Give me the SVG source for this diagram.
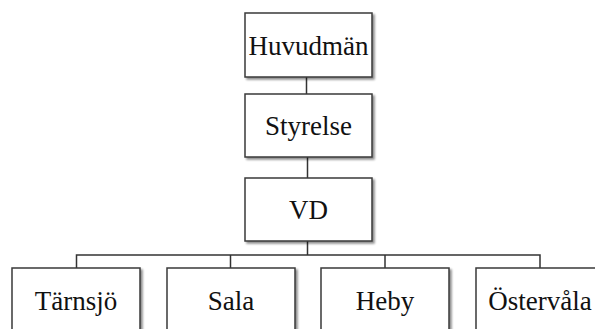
<svg xmlns="http://www.w3.org/2000/svg" width="595" height="329" viewBox="0 0 595 329">
<defs>
<filter id="sh" x="-10%" y="-10%" width="125%" height="125%">
<feGaussianBlur in="SourceAlpha" stdDeviation="1"/>
<feOffset dx="1.5" dy="1.5" result="b"/>
<feComponentTransfer><feFuncA type="linear" slope="0.45"/></feComponentTransfer>
<feMerge><feMergeNode/><feMergeNode in="SourceGraphic"/></feMerge>
</filter>
</defs>
<style>
.box{fill:#fff;stroke:#3a3a3a;stroke-width:1.5;filter:url(#sh)}
.lbl{font-family:"Liberation Serif","Times New Roman",serif;font-size:27px;fill:#111;text-anchor:middle}
.con{fill:none;stroke:#333;stroke-width:1.5}
</style>
<rect width="595" height="329" fill="#fff"/>
<g id="connectors">
<path class="con" d="M306.5 77V94"/>
<path class="con" d="M307.5 157V178"/>
<path class="con" d="M307.5 241V255"/>
<path class="con" d="M76.5 268V255H540V268"/>
<path class="con" d="M230.5 255V268"/>
<path class="con" d="M385 255V268"/>
</g>
<g id="huvudman"><rect class="box" x="245" y="13" width="127" height="64"/><text class="lbl" x="308.5" y="55">Huvudmän</text></g>
<g id="styrelse"><rect class="box" x="245" y="94" width="127" height="63"/><text class="lbl" x="308.5" y="135">Styrelse</text></g>
<g id="vd"><rect class="box" x="245" y="178" width="127" height="63"/><text class="lbl" x="308.5" y="219">VD</text></g>
<g id="tarnsjo"><rect class="box" x="12" y="268" width="128" height="70"/><text class="lbl" x="76" y="310">Tärnsjö</text></g>
<g id="sala"><rect class="box" x="167" y="268" width="128" height="70"/><text class="lbl" x="231" y="310">Sala</text></g>
<g id="heby"><rect class="box" x="321" y="268" width="128" height="70"/><text class="lbl" x="385" y="310">Heby</text></g>
<g id="ostervala"><rect class="box" x="476" y="268" width="128" height="70"/><text class="lbl" x="540" y="310">Östervåla</text></g>
</svg>
